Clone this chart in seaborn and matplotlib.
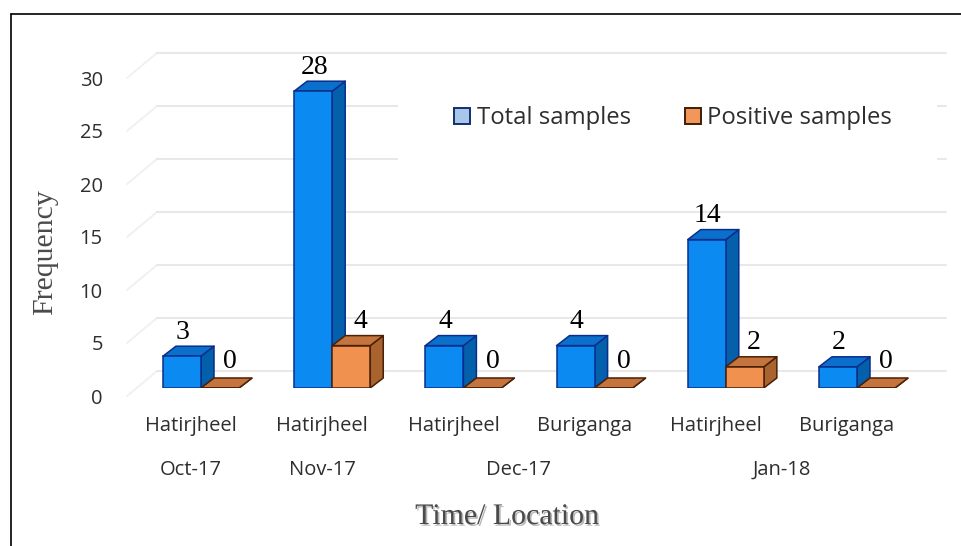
import matplotlib
matplotlib.use("Agg")
import matplotlib.pyplot as plt
import matplotlib.patheffects as pe
from matplotlib.lines import Line2D
from matplotlib.patches import Patch, Polygon, Rectangle
from matplotlib.transforms import ScaledTranslation
import numpy as np
import pandas as pd
import seaborn as sns

sites = ["Hatirjheel", "Hatirjheel", "Hatirjheel", "Buriganga", "Hatirjheel", "Buriganga"]
months = ["Oct-17", "Nov-17", "Dec-17", "Dec-17", "Jan-18", "Jan-18"]
total_samples = [3, 28, 4, 4, 14, 2]
positive_samples = [0, 4, 0, 0, 2, 0]
y_ticks = [0, 5, 10, 15, 20, 25, 30]

W, H = 961, 546
PX_X = 131.2          # pixels per category
PX_Y = 10.6           # pixels per unit
X0_PX, Y0_PX = 201.0, 388.0


def xpx(p):
    return (p - X0_PX) / PX_X


def ypx(p):
    return (Y0_PX - p) / PX_Y


sns.set_theme(style="white")
sans = "Open Sans"
serif = "Liberation Serif"

keys = [f"{m} {s}" for m, s in zip(months, sites)]
df = pd.DataFrame({
    "key": keys * 2,
    "value": total_samples + positive_samples,
    "series": ["Total samples"] * 6 + ["Positive samples"] * 6,
})

fig = plt.figure(figsize=(W / 100, H / 100), dpi=100, facecolor="white")
left, right = X0_PX - 0.5 * PX_X, X0_PX + 5.5 * PX_X
top = 30
ax = fig.add_axes([left / W, 1 - Y0_PX / H, (right - left) / W, (Y0_PX - top) / H])
ax.set_facecolor("none")

sns.barplot(data=df, x="key", y="value", hue="series", order=keys,
            hue_order=["Total samples", "Positive samples"],
            width=0.58, gap=0, legend=False, ax=ax,
            palette=["#0B8BF2", "#F0914F"], saturation=1, zorder=5)
ax.set_xlim(-0.5, 5.5)
ax.set_ylim(0, (Y0_PX - top) / PX_Y)

# back wall and floor gridlines
dy_back = 17 / PX_Y
for v in y_ticks:
    ax.plot([xpx(127), xpx(157)], [v - 8 / PX_Y, v + dy_back],
            color="#F0F0F0", lw=1.3, zorder=1, clip_on=False, solid_capstyle="round")
    ax.plot([xpx(157), xpx(946)], [v + dy_back, v + dy_back],
            color="#E8E8E8", lw=1.5, zorder=1, clip_on=False)

# white panel behind the legend
ax.add_patch(Rectangle((xpx(398), ypx(170)), xpx(937) - xpx(398), ypx(62) - ypx(170),
                       facecolor="white", edgecolor="none", zorder=2, clip_on=False))

# extruded faces
depth_x = 13 / PX_X
depth_y = 10 / PX_Y
styles = [
    {"edge": "#0A2E8C", "top": "#0A70CC", "side": "#0560AC", "off": 1},
    {"edge": "#4A2008", "top": "#C4743C", "side": "#A8632F", "off": 9},
]
for k, (container, st) in enumerate(zip(ax.containers, styles)):
    for bar in container:
        x0, w, h = bar.get_x(), bar.get_width(), bar.get_height()
        z = 5 + k * 2
        bar.set_edgecolor(st["edge"])
        bar.set_linewidth(1.1)
        bar.set_zorder(z)
        top_face = [(x0, h), (x0 + w, h), (x0 + w + depth_x, h + depth_y), (x0 + depth_x, h + depth_y)]
        side_face = [(x0 + w, 0), (x0 + w + depth_x, depth_y), (x0 + w + depth_x, h + depth_y), (x0 + w, h)]
        ax.add_patch(Polygon(side_face, closed=True, facecolor=st["side"], edgecolor=st["edge"],
                             lw=1.1, zorder=z - 0.5, joinstyle="round"))
        ax.add_patch(Polygon(top_face, closed=True, facecolor=st["top"], edgecolor=st["edge"],
                             lw=1.1, zorder=z - 0.5, joinstyle="round"))
        lift = (16 if h == 0 else 14) * 0.72
        off = st["off"] + (1 if h == 0 else 0)
        ax.annotate(f"{int(h)}", (x0 + w / 2, h + depth_y), xytext=(off * 0.72, lift),
                    textcoords="offset points", ha="center", va="center",
                    family=serif, fontsize=20, color="black", zorder=12)

# axes text
ax.set_yticks(y_ticks, labels=[str(v) for v in y_ticks])
ax.set_xticks(range(6), labels=sites)
ax.tick_params(axis="y", length=0, pad=23.5, labelsize=14.5, labelcolor="#2E2E2E")
ax.tick_params(axis="x", length=0, pad=20, labelsize=14.5, labelcolor="#2E2E2E")
for lab in ax.get_yticklabels():
    lab.set_family(sans)
    lab.set_transform(lab.get_transform() + ScaledTranslation(0, -8 / 100, fig.dpi_scale_trans))
for lab in ax.get_xticklabels():
    lab.set_family(sans)
    lab.set_transform(lab.get_transform() + ScaledTranslation(-10 / 100, 0, fig.dpi_scale_trans))

# second level of the category axis
groups = {}
for i, m in enumerate(months):
    groups.setdefault(m, []).append(i)
for m, idx in groups.items():
    ax.text(np.mean(idx) + xpx(191), ypx(470), m, ha="center", va="center",
            family=sans, fontsize=14.5, color="#2E2E2E")

for s in ax.spines.values():
    s.set_visible(False)

ax.set_ylabel("Frequency", family=serif, fontsize=21.5, color="#4A4A4A", va="center", ha="center")
ax.yaxis.set_label_coords(45 / W, 1 - 252 / H, transform=fig.transFigure)
ax.set_xlabel("Time/ Location", family=serif, fontsize=21.5, color="#4A4A4A", va="center", ha="center",
              path_effects=[pe.withSimplePatchShadow(offset=(1.2, -1.2), shadow_rgbFace="#999999", alpha=0.7)])
ax.xaxis.set_label_coords(507 / W, 1 - 517 / H, transform=fig.transFigure)

handles = [Patch(facecolor="#A8C6EA", edgecolor="#12306F", lw=1.4),
           Patch(facecolor="#F2975A", edgecolor="#3F1E08", lw=1.4)]
leg = ax.legend(handles, ["Total samples", "Positive samples"], ncols=2, frameon=False,
                loc="center", bbox_to_anchor=(673 / W, 1 - 118.5 / H), bbox_transform=fig.transFigure,
                prop={"family": sans, "size": 17.2}, labelcolor="#2E2E2E",
                handlelength=0.68, handleheight=0.68, handletextpad=0.26, columnspacing=2.25,
                borderpad=0, borderaxespad=0)
leg.set_zorder(20)

# outer frame (top and left edges only)
fig.add_artist(Line2D([10.5 / W, 1], [1 - 14 / H, 1 - 14 / H], color="black", lw=1.2))
fig.add_artist(Line2D([10.5 / W, 10.5 / W], [0, 1 - 14 / H], color="black", lw=1.2))

fig.savefig("out.png", dpi=100, facecolor="white")
